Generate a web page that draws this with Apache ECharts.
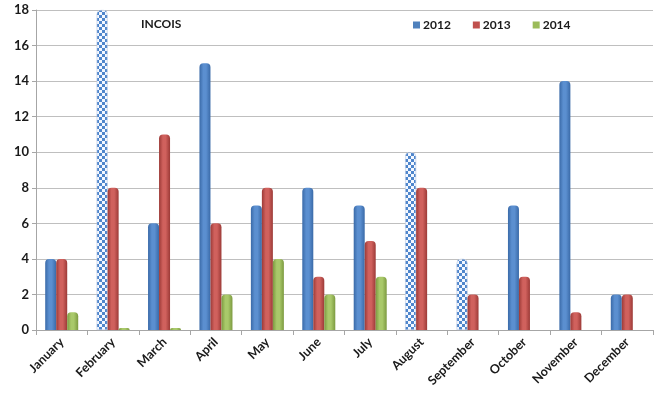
<!DOCTYPE html>
<html><head><meta charset="utf-8">
<script src="https://cdn.jsdelivr.net/npm/echarts@6/dist/echarts.min.js"></script>
<style>html,body{margin:0;padding:0;background:#fff}#c{width:659px;height:405px}</style>
</head><body><div id="c"></div>
<script>
const months = ['January','February','March','April','May','June','July','August','September','October','November','December'];
const s2012 = [4,18,6,15,7,8,7,10,4,7,14,2];
const s2013 = [4,8,11,6,8,3,5,8,2,3,1,2];
const s2014 = [1,0,0,2,4,2,3,null,null,null,null,null];
const checkered2012 = ['February','August','September'];
const yTicks = [0,2,4,6,8,10,12,14,16,18];

function cyl(dark, light) {
  return {type:'linear',x:0,y:0,x2:1,y2:0,colorStops:[
    {offset:0,color:dark},{offset:0.35,color:light},{offset:0.6,color:light},{offset:1,color:dark}]};
}
const cv = document.createElement('canvas');
cv.width = 6; cv.height = 6;
const cx = cv.getContext('2d');
cx.fillStyle = '#f4f8ff'; cx.fillRect(0,0,6,6);
cx.fillStyle = '#4f86cc'; cx.fillRect(0,0,3,3); cx.fillRect(3,3,3,3);
const checker = {image: cv, repeat: 'repeat'};

const blue = cyl('#3a6aa8','#5b8fd0');
const red = cyl('#9c3a37','#d0615d');
const green = cyl('#7c9a40','#a9c96a');

const d2012 = s2012.map((v,i)=> checkered2012.includes(months[i])
  ? {value:v, itemStyle:{color:checker, borderColor:'#b8c8e0', borderWidth:0.6}} : v);

const chart = echarts.init(document.getElementById('c'));
const font = 'Lato, "Liberation Sans", Arial, sans-serif';
chart.setOption({
  animation:false,
  backgroundColor:'#fff',
  title:{text:'INCOIS', left:136, top:13, textStyle:{fontFamily:font, fontWeight:'bold', fontSize:12, color:'#1a1a1a'}},
  legend:{data:[{name:'2012',itemStyle:{color:'#4f81bd'}},{name:'2013',itemStyle:{color:'#c0504d'}},{name:'2014',itemStyle:{color:'#9bbb59'}}],
    left:408, top:14, icon:'rect', itemWidth:7, itemHeight:7, itemGap:22,
    textStyle:{fontFamily:font, fontWeight:'bold', fontSize:12, color:'#1a1a1a', padding:[0,0,0,-2]}},
  grid:{left:36, right:6, top:10, bottom:75},
  xAxis:{type:'category', data:months,
    axisLine:{lineStyle:{color:'#a6a6a6'}},
    axisTick:{show:true, length:5, lineStyle:{color:'#a6a6a6'}},
    axisLabel:{rotate:45, interval:0, margin:10, fontFamily:font, fontWeight:'bold', fontSize:12.5, color:'#1a1a1a'}},
  yAxis:{type:'value', min:0, max:18, interval:2,
    axisLine:{show:true, lineStyle:{color:'#a6a6a6'}},
    axisTick:{show:true, length:4, lineStyle:{color:'#a6a6a6'}},
    splitLine:{lineStyle:{color:'#bfbfbf', width:1.2}},
    axisLabel:{margin:7, fontFamily:font, fontWeight:'bold', fontSize:13, color:'#1a1a1a',
      formatter:v=> yTicks.includes(v)? String(v):''}},
  series:[
    {name:'2012', type:'bar', data:d2012, barWidth:11, barGap:'0%',
      itemStyle:{color:blue, borderRadius:[4,4,0,0]}},
    {name:'2013', type:'bar', data:s2013, barWidth:11,
      itemStyle:{color:red, borderRadius:[4,4,0,0]}},
    {name:'2014', type:'bar', data:s2014, barWidth:11, barMinHeight:2,
      itemStyle:{color:green, borderRadius:[4,4,0,0]}}
  ]
});
</script></body></html>
